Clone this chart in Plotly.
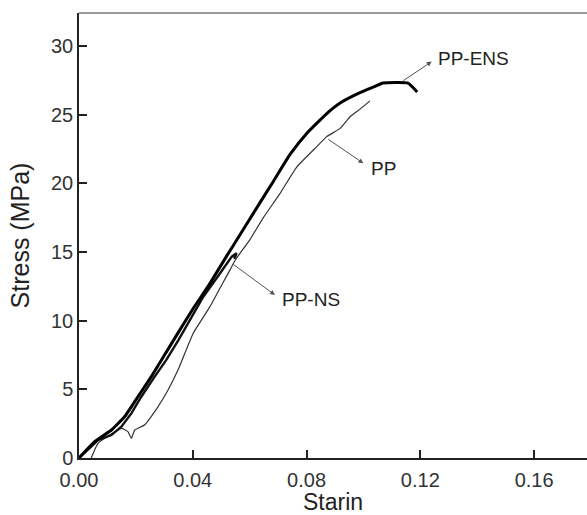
import plotly.graph_objects as go

# PP-ENS (thick)
ens_strain = [0.0, 0.0055, 0.0114, 0.016, 0.0207, 0.0254, 0.029, 0.0345, 0.0402, 0.046, 0.0519, 0.0566,
              0.0626, 0.0682, 0.0742, 0.0802, 0.0872, 0.0918, 0.0988, 0.1034, 0.1069, 0.1157, 0.1189]
ens_stress = [0.0, 1.19, 2.04, 3.0, 4.46, 5.92, 7.14, 9.0, 10.9, 12.7, 14.7, 16.25,
              18.25, 20.1, 22.1, 23.66, 25.1, 25.85, 26.6, 27.0, 27.3, 27.3, 26.65]

# PP-NS (medium)
ns_strain = [0.0, 0.0067, 0.0114, 0.0149, 0.0184, 0.0219, 0.0266, 0.0307, 0.035, 0.039, 0.0437, 0.0496, 0.0537, 0.0554, 0.0546]
ns_stress = [0.0, 1.31, 1.67, 2.28, 3.25, 4.46, 5.92, 7.14, 8.6, 10.05, 11.74, 13.45, 14.66, 14.9, 14.5]

# PP (thin)
pp_strain = [0.0043, 0.0067, 0.0149, 0.0172, 0.0184, 0.0196, 0.023, 0.0278, 0.0313, 0.0348, 0.0402, 0.046,
             0.0507, 0.0531, 0.0549, 0.0566, 0.0601, 0.0648, 0.0707, 0.0766, 0.0836, 0.0871, 0.0918, 0.0953, 0.0988, 0.1023]
pp_stress = [0.0, 1.07, 2.16, 1.92, 1.43, 2.04, 2.4, 3.74, 4.95, 6.4, 9.1, 11.0,
             12.8, 13.7, 14.4, 14.9, 15.9, 17.5, 19.27, 21.2, 22.67, 23.4, 24.0, 24.85, 25.4, 26.0]

x_ticks = [0.0, 0.04, 0.08, 0.12, 0.16]
x_tick_labels = ["0.00", "0.04", "0.08", "0.12", "0.16"]
y_ticks = [0, 5, 10, 15, 20, 25, 30]

labels = ["PP-ENS", "PP", "PP-NS"]
label_pos = [(0.1255, 29.1), (0.1021, 21.09), (0.0707, 11.56)]
arrow_tail = [(0.1135, 27.4), (0.0871, 23.28), (0.0537, 14.18)]
arrow_head = [(0.124, 28.86), (0.1, 21.46), (0.0689, 11.87)]

fig = go.Figure()
fig.add_trace(go.Scatter(x=pp_strain, y=pp_stress, mode="lines",
                         line=dict(color="#333333", width=1.2, shape="spline", smoothing=0.4), name="PP"))
fig.add_trace(go.Scatter(x=ns_strain, y=ns_stress, mode="lines",
                         line=dict(color="#111111", width=2.4), name="PP-NS"))
fig.add_trace(go.Scatter(x=ens_strain, y=ens_stress, mode="lines",
                         line=dict(color="#000000", width=3, shape="spline", smoothing=0.4), name="PP-ENS"))

font_fam = "Liberation Sans, Arial, sans-serif"
for lab, (lx, ly), (tx, ty), (hx, hy) in zip(labels, label_pos, arrow_tail, arrow_head):
    fig.add_annotation(x=hx, y=hy, ax=tx, ay=ty, xref="x", yref="y", axref="x", ayref="y",
                       text="", showarrow=True, arrowhead=2, arrowsize=1, arrowwidth=1,
                       arrowcolor="#555555")
    fig.add_annotation(x=lx, y=ly, xref="x", yref="y", text=lab, showarrow=False,
                       xanchor="left", yanchor="middle",
                       font=dict(family=font_fam, size=19, color="#222222"))

fig.add_shape(type="line", xref="paper", yref="paper", x0=0, x1=1, y0=1, y1=1,
              line=dict(color="#777777", width=1.5))

fig.update_layout(
    width=587, height=515,
    margin=dict(l=79, r=0, t=13, b=57),
    plot_bgcolor="white", paper_bgcolor="white",
    showlegend=False,
    font=dict(family=font_fam, color="#222222"),
    xaxis=dict(range=[0, 0.1786], tickvals=x_ticks, ticktext=x_tick_labels,
               ticks="inside", ticklen=8, tickwidth=1.5, tickcolor="#222222",
               showline=True, linecolor="#222222", linewidth=1.5, showgrid=False, zeroline=False,
               tickfont=dict(size=20, color="#333333"), ticklabelstandoff=3,
               title=dict(text="Starin", font=dict(size=23), standoff=4)),
    yaxis=dict(range=[0, 32.4], tickvals=y_ticks,
               ticks="inside", ticklen=8, tickwidth=1.5, tickcolor="#222222",
               showline=True, linecolor="#222222", linewidth=1.5, showgrid=False, zeroline=False,
               tickfont=dict(size=20, color="#333333"),
               title=dict(text="Stress (MPa)", font=dict(size=25), standoff=14)),
)

fig.write_html("out.html")
